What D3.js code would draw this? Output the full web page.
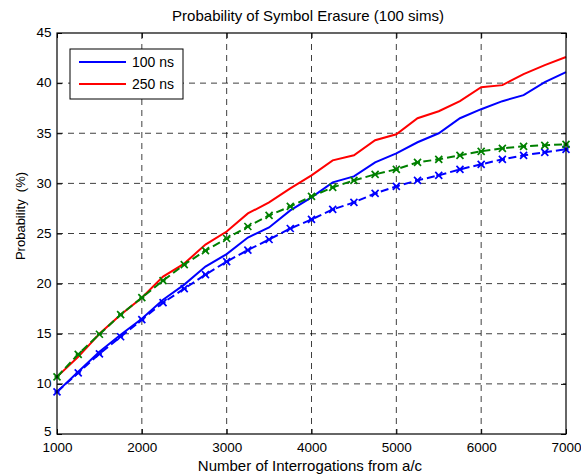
<!DOCTYPE html>
<html>
<head>
<meta charset="utf-8">
<script src="https://cdn.jsdelivr.net/npm/d3@7"></script>
<style>
  body { margin: 0; background: #fff; }
  text { font-family: "Liberation Sans", Arial, sans-serif; fill: #000; }
</style>
</head>
<body>
<div id="chart"></div>
<script>
// interrogations from a/c, one sample every 250
var interrogations = [1000, 1250, 1500, 1750, 2000, 2250, 2500, 2750, 3000, 3250, 3500, 3750, 4000,
                      4250, 4500, 4750, 5000, 5250, 5500, 5750, 6000, 6250, 6500, 6750, 7000];

// simulated curves (solid)
var sim100 = [9.2, 11.2, 13.2, 14.9, 16.5, 18.4, 19.9, 21.7, 22.95, 24.6, 25.6, 27.3, 28.6,
              30.1, 30.7, 32.1, 33.0, 34.1, 35.0, 36.5, 37.4, 38.2, 38.8, 40.1, 41.1];
var sim250 = [10.7, 12.7, 15.0, 16.9, 18.6, 20.7, 22.0, 23.9, 25.2, 27.0, 28.1, 29.5, 30.8,
              32.3, 32.8, 34.3, 34.9, 36.5, 37.2, 38.2, 39.6, 39.8, 40.9, 41.8, 42.6];
// analytic curves (dashed with markers)
var calc100 = [9.2, 11.1, 13.0, 14.7, 16.4, 18.1, 19.5, 20.9, 22.2, 23.35, 24.4, 25.5, 26.4,
               27.4, 28.1, 29.0, 29.7, 30.3, 30.8, 31.4, 31.9, 32.4, 32.8, 33.1, 33.4];
var calc250 = [10.7, 12.95, 14.95, 16.9, 18.6, 20.3, 21.9, 23.3, 24.5, 25.7, 26.8, 27.7, 28.7,
               29.6, 30.3, 30.9, 31.4, 32.1, 32.4, 32.8, 33.2, 33.5, 33.7, 33.8, 33.9];

var xTicks = [1000, 2000, 3000, 4000, 5000, 6000, 7000];
var yTicks = [5, 10, 15, 20, 25, 30, 35, 40, 45];
var legendLabels = ["100 ns", "250 ns"];

var W = 581, H = 476;
var m = {left: 57, right: 15, top: 33, bottom: 42};
var w = W - m.left - m.right, h = H - m.top - m.bottom;

var svg = d3.select("#chart").append("svg")
    .attr("width", W).attr("height", H);

var x = d3.scaleLinear().domain([1000, 7000]).range([0, w]);
var y = d3.scaleLinear().domain([5, 45]).range([h, 0]);

var g = svg.append("g").attr("transform", "translate(" + m.left + "," + m.top + ")");

// grid
g.selectAll("line.gx").data(xTicks.slice(1, -1)).enter().append("line")
    .attr("x1", function(d) { return x(d); }).attr("x2", function(d) { return x(d); })
    .attr("y1", 0).attr("y2", h)
    .attr("stroke", "#000").attr("stroke-width", 1).attr("stroke-dasharray", "6,5").attr("opacity", 0.75);
g.selectAll("line.gy").data(yTicks.slice(1, -1)).enter().append("line")
    .attr("y1", function(d) { return y(d); }).attr("y2", function(d) { return y(d); })
    .attr("x1", 0).attr("x2", w)
    .attr("stroke", "#000").attr("stroke-width", 1).attr("stroke-dasharray", "6,5").attr("opacity", 0.75);

// axes, ticks pointing inwards
var ax = function(sel) { sel.select(".domain").remove(); sel.selectAll("text").style("font-size", "13.5px"); };
g.append("g").attr("transform", "translate(0," + h + ")")
    .call(d3.axisBottom(x).tickValues(xTicks).tickSizeInner(-5).tickSizeOuter(0).tickPadding(8).tickFormat(d3.format("d")))
    .call(ax);
g.append("g")
    .call(d3.axisTop(x).tickValues(xTicks).tickSizeInner(-5).tickSizeOuter(0).tickFormat(""))
    .call(ax);
g.append("g")
    .call(d3.axisLeft(y).tickValues(yTicks).tickSizeInner(-5).tickSizeOuter(0).tickPadding(5.5))
    .call(ax)
    .selectAll("text").attr("dy", function(d) { return d === 5 ? "0.1em" : "0.28em"; });
g.append("g").attr("transform", "translate(" + w + ",0)")
    .call(d3.axisRight(y).tickValues(yTicks).tickSizeInner(-5).tickSizeOuter(0).tickFormat(""))
    .call(ax);
g.selectAll(".tick line").attr("stroke", "#000");

var line = d3.line()
    .x(function(d, i) { return x(interrogations[i]); })
    .y(function(d) { return y(d); });

var series = [
  {vals: sim100, color: "#0000ff", dash: null, marks: false},
  {vals: sim250, color: "#ff0000", dash: null, marks: false},
  {vals: calc100, color: "#0000ff", dash: "8,4", marks: true},
  {vals: calc250, color: "#008000", dash: "8,4", marks: true}
];

series.forEach(function(s) {
  g.append("path").datum(s.vals)
      .attr("fill", "none").attr("stroke", s.color).attr("stroke-width", 2)
      .attr("stroke-dasharray", s.dash)
      .attr("d", line);
  if (s.marks) {
    var r = 3.5;
    g.selectAll(null).data(s.vals).enter().append("path")
        .attr("transform", function(d, i) { return "translate(" + x(interrogations[i]) + "," + y(d) + ")"; })
        .attr("d", "M" + -r + "," + -r + "L" + r + "," + r + "M" + -r + "," + r + "L" + r + "," + -r + "M" + (-r + 1) + ",0L" + (r - 1) + ",0")
        .attr("stroke", s.color).attr("stroke-width", 1.7).attr("fill", "none");
  }
});

// frame
g.append("rect").attr("width", w).attr("height", h)
    .attr("fill", "none").attr("stroke", "#000").attr("stroke-width", 1.2);

// legend
var lg = svg.append("g").attr("transform", "translate(70,49)");
lg.append("rect").attr("width", 113).attr("height", 50)
    .attr("fill", "#fff").attr("stroke", "#000").attr("stroke-width", 1);
[["#0000ff", legendLabels[0]], ["#ff0000", legendLabels[1]]].forEach(function(d, i) {
  var yy = 13 + i * 22;
  lg.append("line").attr("x1", 9).attr("x2", 56).attr("y1", yy).attr("y2", yy)
      .attr("stroke", d[0]).attr("stroke-width", 2);
  lg.append("text").attr("x", 62).attr("y", yy + 5).style("font-size", "14px").text(d[1]);
});

// titles
svg.append("text").attr("x", 308).attr("y", 20.5).attr("text-anchor", "middle")
    .style("font-size", "15px").text("Probability of Symbol Erasure (100 sims)");
svg.append("text").attr("x", 310).attr("y", 471).attr("text-anchor", "middle")
    .style("font-size", "15px").text("Number of Interrogations from a/c");
svg.append("text").attr("transform", "translate(25,216) rotate(-90)")
    .attr("text-anchor", "middle").style("font-size", "13px").style("white-space", "pre")
    .text("Probability  (%)");
</script>
</body>
</html>
